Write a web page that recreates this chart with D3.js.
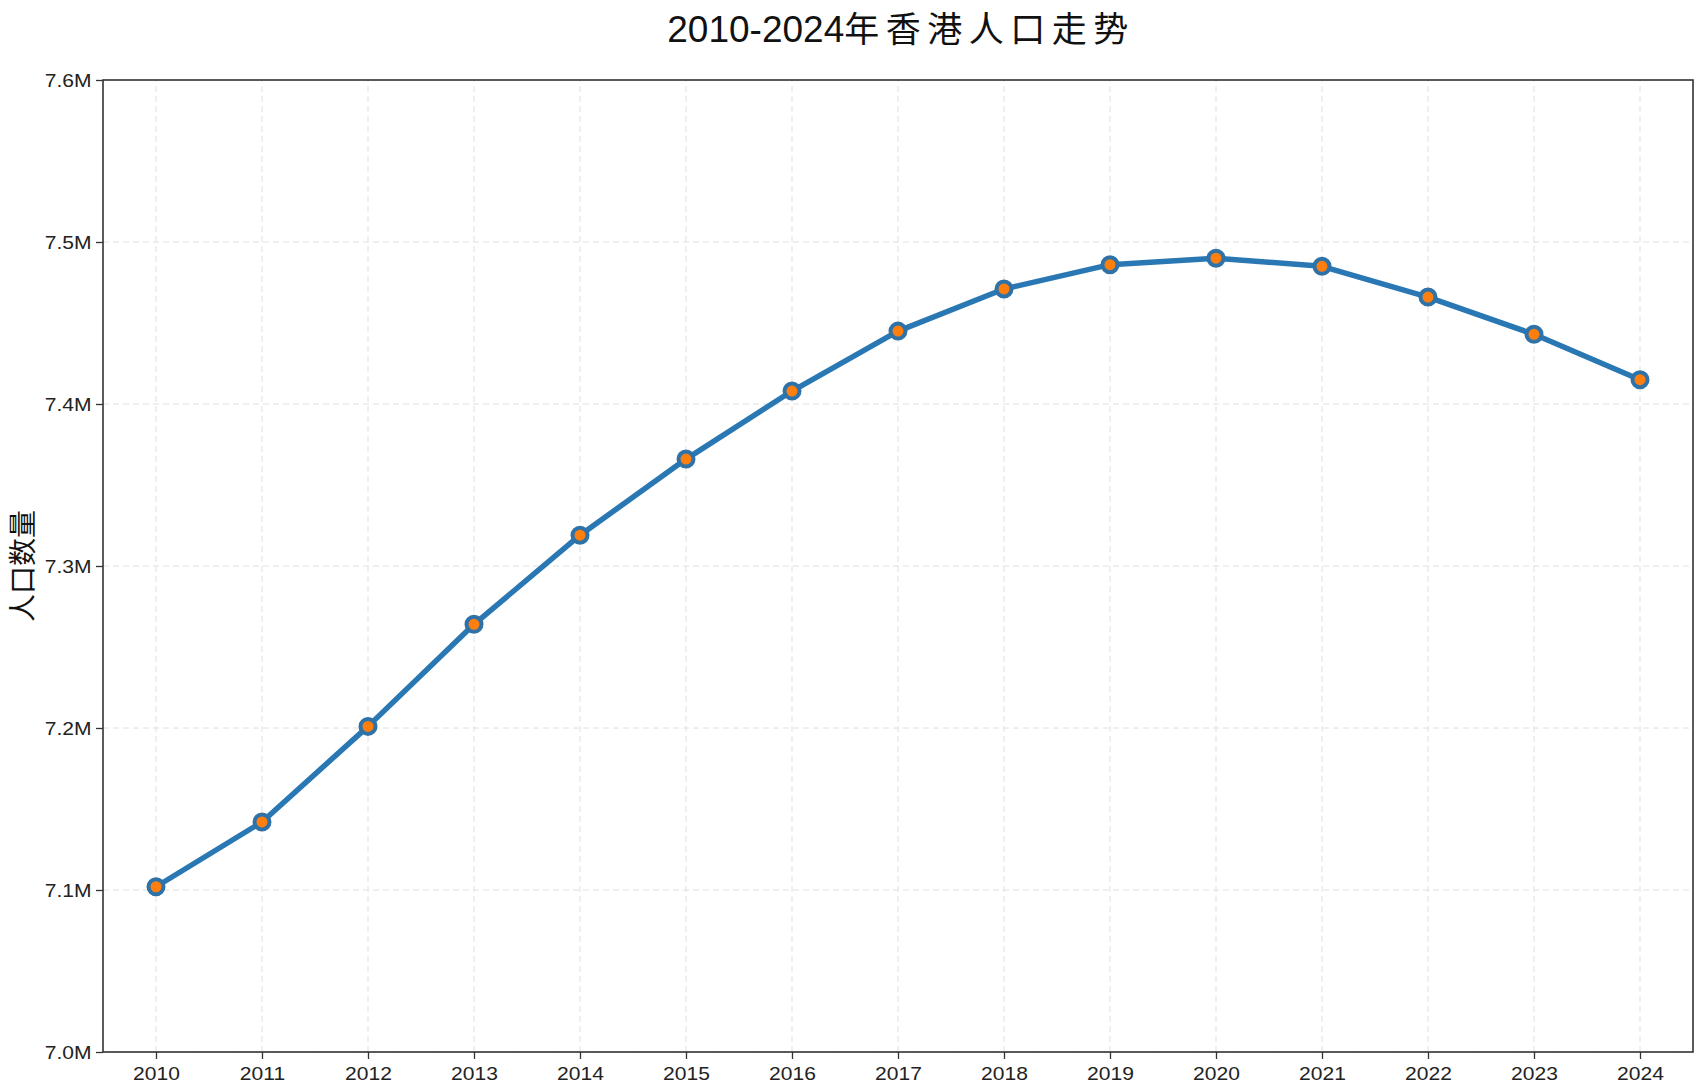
<!DOCTYPE html>
<html><head><meta charset="utf-8">
<script src="https://cdn.jsdelivr.net/npm/d3@7"></script>
<style>html,body{margin:0;padding:0;background:#fff;}svg{display:block;}</style>
</head><body>
<script>
const years = [2010,2011,2012,2013,2014,2015,2016,2017,2018,2019,2020,2021,2022,2023,2024];
const population = [7.102,7.142,7.201,7.264,7.319,7.366,7.408,7.445,7.471,7.486,7.490,7.485,7.466,7.443,7.415];
const yTicks = [7.0,7.1,7.2,7.3,7.4,7.5,7.6];
const titleNum = "2010-2024";
const titleCJK = "年香港人口走势";
const yLabelText = "人口数量";

const W = 1702, H = 1088;
const m = {left:103, right:W-1693, top:80, bottom:H-1052};
const latin = "'Liberation Sans', Arial, sans-serif";
const cjk = "'Noto Sans CJK SC', 'Liberation Sans', sans-serif";
const SX = 1.17;
const svg = d3.select("body").append("svg").attr("width",W).attr("height",H);

const x = d3.scaleLinear().domain([2009.5,2024.5]).range([m.left, W-m.right]);
const y = d3.scaleLinear().domain([7.0,7.6]).range([H-m.bottom, m.top]);

// grid
const g = svg.append("g");
g.selectAll(".gx").data(years).join("line")
  .attr("x1",d=>x(d)).attr("x2",d=>x(d)).attr("y1",y(7.0)).attr("y2",y(7.6))
  .attr("stroke","#e0e0e0").attr("stroke-width",1).attr("stroke-dasharray","6,4");
g.selectAll(".gy").data(yTicks).join("line")
  .attr("x1",x(2009.5)).attr("x2",x(2024.5)).attr("y1",d=>y(d)).attr("y2",d=>y(d))
  .attr("stroke","#e0e0e0").attr("stroke-width",1).attr("stroke-dasharray","6,4");

// axes
const xAxis = d3.axisBottom(x).tickValues(years).tickFormat(d3.format("d")).tickSizeOuter(0).tickSize(7).tickPadding(8);
const yAxis = d3.axisLeft(y).tickValues(yTicks).tickFormat(d=>d.toFixed(1)+"M").tickSizeOuter(0).tickSize(7);
const gx = svg.append("g").attr("transform",`translate(0,${H-m.bottom})`).call(xAxis);
const gy = svg.append("g").attr("transform",`translate(${m.left},0)`).call(yAxis);
[gx,gy].forEach(a=>{
  a.select(".domain").remove();
  a.selectAll(".tick line").attr("stroke","#333").attr("stroke-width",1.3);
  a.selectAll(".tick text").attr("fill","#222").style("font-family",latin).style("font-size","18px")
    .attr("transform",`scale(${SX},1)`);
});
gy.selectAll(".tick text").attr("x",-11.5/SX).attr("dy","0.36em");

// frame
svg.append("rect").attr("x",x(2009.5)).attr("y",y(7.6))
  .attr("width",x(2024.5)-x(2009.5)).attr("height",y(7.0)-y(7.6))
  .attr("fill","none").attr("stroke","#333").attr("stroke-width",1.6);

// line
const line = d3.line().x((d,i)=>x(years[i])).y(d=>y(d));
svg.append("path").datum(population).attr("d",line)
  .attr("fill","none").attr("stroke","#2a78b3").attr("stroke-width",5.5)
  .attr("stroke-linejoin","round");
svg.selectAll(".pt").data(population).join("circle")
  .attr("cx",(d,i)=>x(years[i])).attr("cy",d=>y(d)).attr("r",7.5)
  .attr("fill","#ff7f0e").attr("stroke","#2f72a8").attr("stroke-width",4);

// title
const t = svg.append("text").attr("x",(m.left+W-m.right)/2 + 3).attr("y",42)
  .attr("text-anchor","middle").attr("fill","#111");
t.append("tspan").style("font-family",latin).style("font-size","37px").text(titleNum);
t.append("tspan").style("font-family",cjk).style("font-size","35px").style("letter-spacing","6.5px").text(titleCJK);
// y label
svg.append("text").attr("transform",`translate(33,${(m.top+H-m.bottom)/2}) rotate(-90)`)
  .attr("text-anchor","middle").style("font-family",cjk).style("font-size","28px")
  .attr("fill","#111").text(yLabelText);
</script>
</body></html>
